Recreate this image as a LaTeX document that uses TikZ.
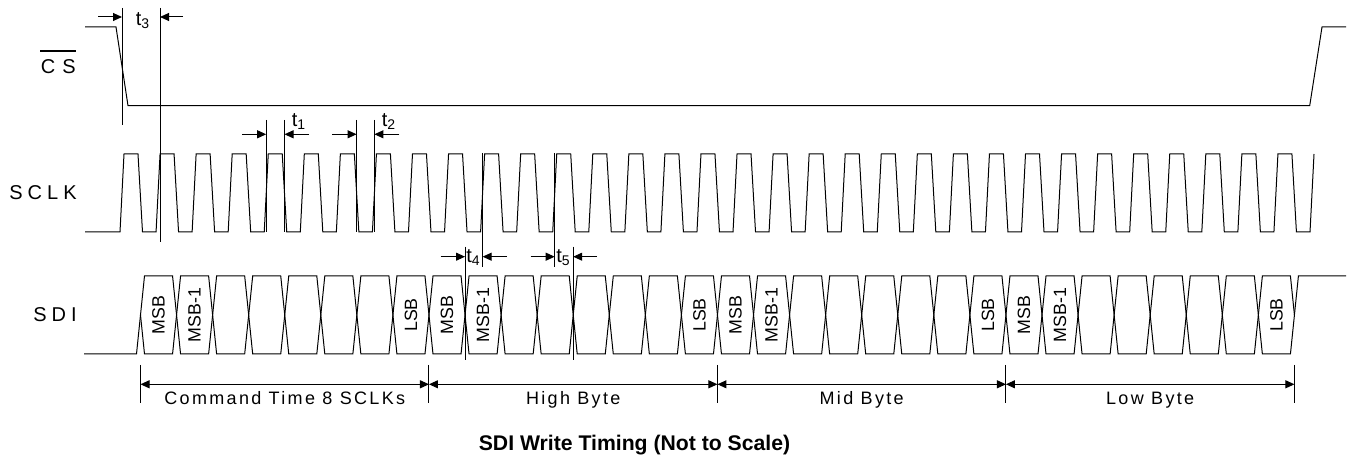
\documentclass[tikz,border=0pt]{standalone}
\usepackage{fontspec}
\setmainfont{Liberation Sans}
\newfontfamily\sigfont[LetterSpace=25]{Liberation Sans}
\newfontfamily\spanfont[LetterSpace=13]{Liberation Sans}
\usetikzlibrary{calc}
\usetikzlibrary{arrows.meta}

\tikzset{
    wave/.style={line width=0.5pt, line join=miter},
    marker/.style={line width=0.5pt},
    dimarrow/.style={-{Triangle[length=4.5pt,width=4pt]}, line width=0.5pt},
    spanarrow/.style={{Triangle[length=4.5pt,width=4pt]}-{Triangle[length=4.5pt,width=4pt]}, line width=0.5pt},
    bitlabel/.style={rotate=90, inner sep=0pt, font=\fontsize{8.9}{10}\selectfont},
    siglabel/.style={anchor=east, inner sep=0pt, font=\fontsize{10}{12}\sigfont},
    spanlabel/.style={anchor=base, inner sep=0pt, font=\fontsize{9}{11}\spanfont},
    tlabel/.style={inner sep=0pt, font=\fontsize{10}{12}\selectfont},
}

\begin{document}
\begin{tikzpicture}[x=0.5pt, y=-0.5pt]
    \useasboundingbox (0,0) rectangle (1348,458);

    % signal names
    \node[siglabel] (lblcs) at (76,66.4) {C\hspace{3.5pt}S};
    \node[siglabel] (lblsclk) at (77,193) {SCLK};
    \node[siglabel] (lblsdi) at (77,315) {SDI};
    \draw[line width=1.2pt] ($(lblcs.north west)+(0,-8)$) -- ($(lblcs.north east)+(0,-8)$);

    % chip select
    \draw[wave] (85,27) -- (116,27) -- (128,105.7) -- (1309.7,105.7) -- (1322,27) -- (1346,27);

    % serial clock, 33 pulses and a last rising edge
    \draw[wave] (85,232)
        \foreach \k in {0,...,32} {
            -- ({120+36.06*\k},232) -- ({124+36.06*\k},154)
            -- ({138+36.06*\k},154) -- ({142.5+36.06*\k},232)
        }
        -- (1310,232) -- (1314,154);

    % serial data, one cell per bit
    \draw[wave] (84,354) -- (136.5,354) -- (140.5,315);
    \foreach \n [evaluate=\n as \a using {140.5+36.06*\n},
                 evaluate=\n as \b using {140.5+36.06*(\n+1)}] in {0,...,31} {
        \draw[wave] (\a,315) -- ({\a+4},276) -- ({\b-4},276) -- (\b,315)
            -- ({\b-4},354) -- ({\a+4},354) -- cycle;
    }
    \draw[wave] (1294.4,315) -- (1298.4,276) -- (1346,276);

    % bit names
    \foreach \n/\bit in {0/MSB,1/MSB-1,7/LSB,8/MSB,9/MSB-1,15/LSB,
                         16/MSB,17/MSB-1,23/LSB,24/MSB,25/MSB-1,31/LSB}
        \node[bitlabel] (bit\n) at ({158.5+36.06*\n},315) {\bit};

    % t3: CS low to first SCLK
    \draw[marker] (122,8) -- (122,125);
    \draw[marker] (160,8) -- (160,242);
    \draw[dimarrow] (98,17) -- (122,17);
    \draw[dimarrow] (183,17) -- (160,17);
    \node[tlabel] (t3) at (143,21) {t\textsubscript{3}};

    % t1: SCLK high
    \draw[marker] (266.2,120) -- (266.2,232);
    \draw[marker] (284.5,120) -- (284.5,232);
    \draw[dimarrow] (242.3,134.3) -- (266.2,134.3);
    \draw[dimarrow] (309,134.3) -- (284.5,134.3);
    \node[tlabel] (t1) at (299,122) {t\textsubscript{1}};

    % t2: SCLK low
    \draw[marker] (356.6,120) -- (356.6,232);
    \draw[marker] (374.4,120) -- (374.4,232);
    \draw[dimarrow] (332.3,134.3) -- (356.6,134.3);
    \draw[dimarrow] (399.3,134.3) -- (374.4,134.3);
    \node[tlabel] (t2) at (389,122) {t\textsubscript{2}};

    % t4: data setup
    \draw[marker] (465,246.7) -- (465,360);
    \draw[marker] (482.6,153.3) -- (482.6,266.7);
    \draw[dimarrow] (440.7,256.7) -- (465,256.7);
    \draw[dimarrow] (507,256.7) -- (482.6,256.7);
    \node[tlabel] (t4) at (473.5,258) {t\textsubscript{4}};

    % t5: data hold
    \draw[marker] (554.7,153.3) -- (554.7,266.7);
    \draw[marker] (573.2,246.7) -- (573.2,360);
    \draw[dimarrow] (530.7,256.7) -- (554.7,256.7);
    \draw[dimarrow] (597,256.7) -- (573.2,256.7);
    \node[tlabel] (t5) at (563.5,258) {t\textsubscript{5}};

    % byte spans
    \foreach \i in {0,...,4} {
        \coordinate (span\i) at ({140.5+288.48*\i},384.3);
        \draw[marker] ($(span\i)+(0,-19.3)$) -- ($(span\i)+(0,18.7)$);
    }
    \draw[spanarrow] (span0) -- (span1);
    \draw[spanarrow] (span1) -- (span2);
    \draw[spanarrow] (span2) -- (span3);
    \draw[spanarrow] (span3) -- (span4);
    \node[spanlabel] (spancmd) at ($(span0)!0.5!(span1)+(0,20.7)$) {Command Time 8 SCLKs};
    \node[spanlabel] (spanhigh) at ($(span1)!0.5!(span2)+(0,20.7)$) {High Byte};
    \node[spanlabel] (spanmid) at ($(span2)!0.5!(span3)+(0,20.7)$) {Mid Byte};
    \node[spanlabel] (spanlow) at ($(span3)!0.5!(span4)+(0,20.7)$) {Low Byte};

    % caption
    \node[anchor=base, inner sep=0pt, font=\fontsize{10.6}{12}\selectfont\bfseries] (title)
        at (634.5,451) {SDI Write Timing (Not to Scale)};
\end{tikzpicture}
\end{document}
